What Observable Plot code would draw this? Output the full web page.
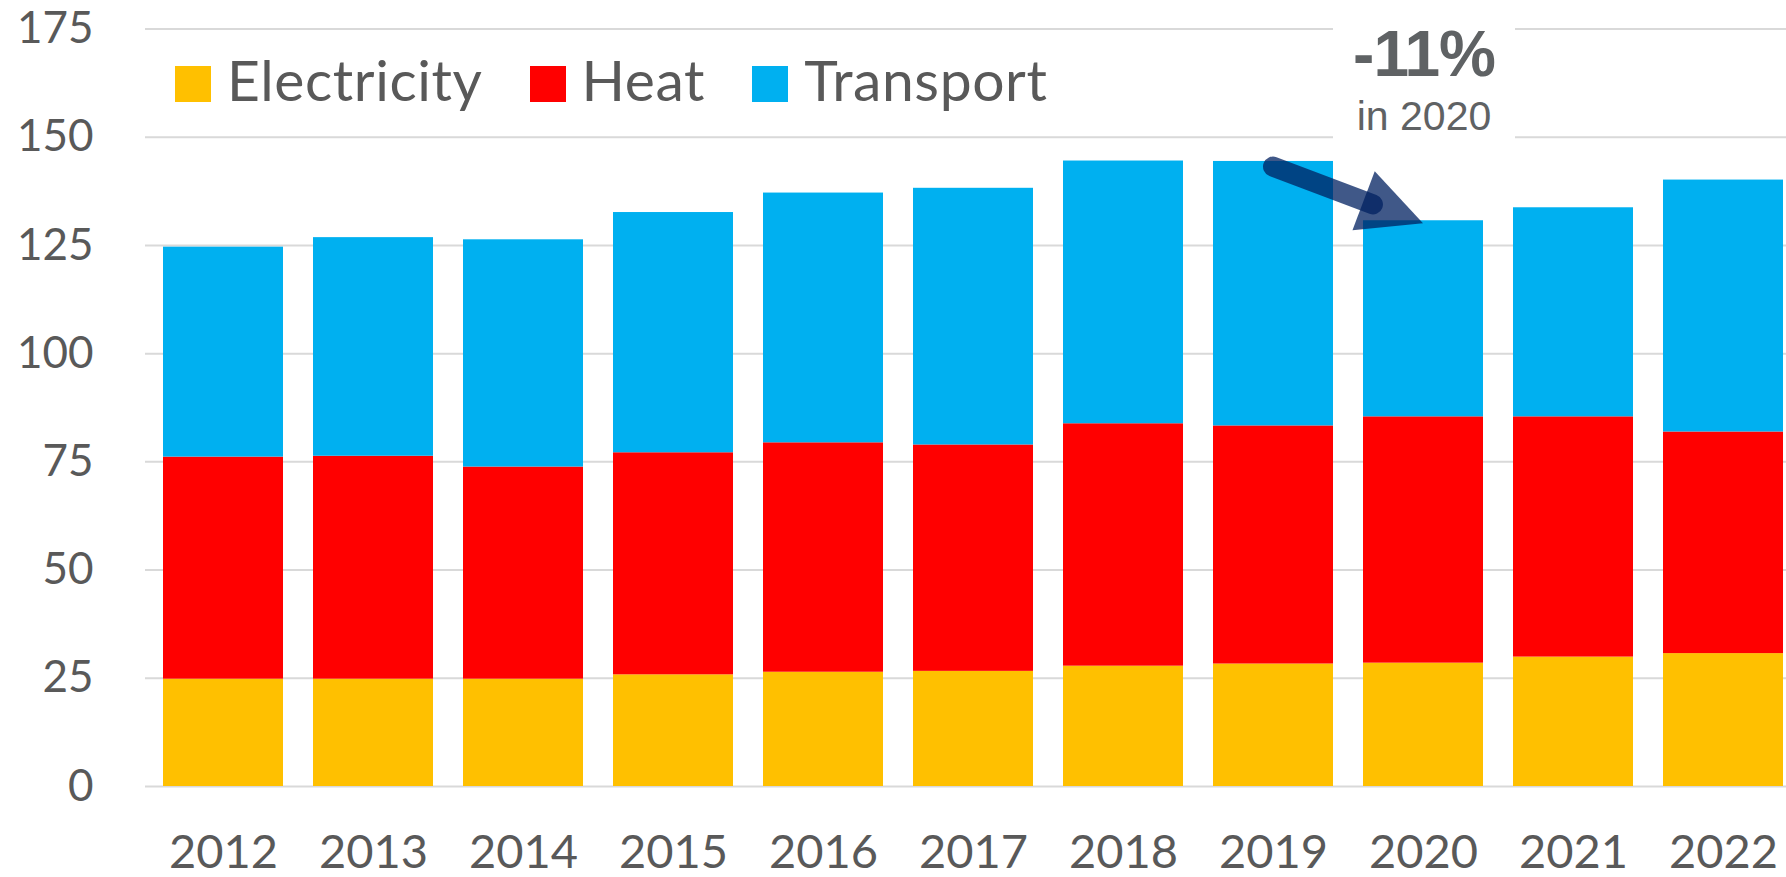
<!DOCTYPE html>
<html>
<head>
<meta charset="utf-8">
<script src="https://cdn.jsdelivr.net/npm/d3@7"></script>
<script src="https://cdn.jsdelivr.net/npm/@observablehq/plot@0.6"></script>
<style>
html, body { margin: 0; padding: 0; background: #fff; overflow: hidden; }
#wrap { position: relative; width: 1786px; height: 877px; }
#legend { position: absolute; left: 175px; top: 51px; display: flex; align-items: flex-start;
  font-family: Lato, sans-serif; font-size: 57px; line-height: 57px; letter-spacing: 0.6px; color: #595959; white-space: nowrap; }
#legend .item { display: flex; align-items: flex-start; margin-right: 47px; }
#legend .sw { width: 36px; height: 36px; margin-top: 15px; margin-right: 16px; }
#notebox { position: absolute; left: 1333px; top: 12px; width: 182px; height: 132px; background: #fff; }
.note { position: absolute; left: 1333px; width: 182px; text-align: center; color: #5f6264;
  font-family: "Liberation Sans", Arial, sans-serif; white-space: nowrap; }
#n1 { top: 22px; font-size: 64px; line-height: 64px; font-weight: bold; letter-spacing: -1px; }
#n2 { top: 96px; font-size: 41px; line-height: 41px; }
</style>
</head>
<body>
<div id="wrap">
  <div id="chart"></div>
  <div id="legend"></div>
  <div id="notebox"></div>
  <div class="note" id="n1">-11%</div>
  <div class="note" id="n2">in 2020</div>
</div>
<script>
// ---- data ----
const years = ["2012","2013","2014","2015","2016","2017","2018","2019","2020","2021","2022"];
const series = ["Electricity", "Heat", "Transport"];
const seriesColors = ["#FFC000", "#FF0000", "#00B0F0"];
const electricity = [24.8, 24.8, 24.8, 25.8, 26.4, 26.6, 27.8, 28.3, 28.5, 29.9, 30.7];
const heat        = [51.3, 51.5, 49.0, 51.3, 53.0, 52.3, 56.0, 55.0, 56.9, 55.5, 51.2];
const transport   = [48.5, 50.5, 52.5, 55.5, 57.7, 59.3, 60.7, 61.1, 45.3, 48.3, 58.2];
const yTicks = [0, 25, 50, 75, 100, 125, 150, 175];
const arrowFrom = {year: "2019", value: 143.1};
const arrowTo = {year: "2020", value: 130.0};

const valuesBySeries = [electricity, heat, transport];
const table = [];
series.forEach((s, i) => years.forEach((y, j) => table.push({year: y, series: s, value: valuesBySeries[i][j]})));

// legend
const legend = document.getElementById("legend");
series.forEach((s, i) => {
  const item = document.createElement("div");
  item.className = "item";
  const sw = document.createElement("div");
  sw.className = "sw";
  sw.style.background = seriesColors[i];
  const label = document.createElement("span");
  label.textContent = s;
  item.appendChild(sw);
  item.appendChild(label);
  legend.appendChild(item);
});

function arrowMark(index, scales) {
  const x = scales.x, y = scales.y;
  const off = x.bandwidth ? x.bandwidth() / 2 : 0;
  const x0 = x(arrowFrom.year) + off, y0 = y(arrowFrom.value);
  const x1 = x(arrowTo.year) + off, y1 = y(arrowTo.value);
  const dx = x1 - x0, dy = y1 - y0, len = Math.hypot(dx, dy);
  const ux = dx / len, uy = dy / len, nx = -uy, ny = ux;
  const shaftBack = 53.5, headLen = 63.5, headHalf = 31.5;
  const g = d3.create("svg:g");
  g.append("line")
    .attr("x1", x0).attr("y1", y0)
    .attr("x2", x1 - ux * shaftBack).attr("y2", y1 - uy * shaftBack)
    .attr("stroke", "#002060").attr("stroke-opacity", 0.75)
    .attr("stroke-width", 20).attr("stroke-linecap", "round");
  const bx = x1 - ux * headLen, by = y1 - uy * headLen;
  g.append("path")
    .attr("d", `M${x1},${y1}L${bx + nx * headHalf},${by + ny * headHalf}L${bx - nx * headHalf},${by - ny * headHalf}Z`)
    .attr("fill", "#002060").attr("fill-opacity", 0.75);
  return g.node();
}

const chart = Plot.plot({
  width: 1786,
  height: 877,
  marginLeft: 145,
  marginRight: 0,
  marginTop: 28.5,
  marginBottom: 91,
  style: {fontFamily: "Lato, sans-serif", color: "#595959", background: "#fff"},
  x: {type: "band", domain: years, range: [145, 1801.6], paddingInner: 0.2, paddingOuter: 0.1},
  y: {domain: [0, 175]},
  color: {domain: series, range: seriesColors},
  marks: [
    Plot.ruleY(yTicks, {stroke: "#D9D9D9", strokeWidth: 2}),
    Plot.barY(table, {x: "year", y: "value", fill: "series"}),
    Plot.axisY(yTicks, {tickSize: 0, tickPadding: 52, fontSize: 44, label: null}),
    Plot.axisX({tickSize: 0, tickPadding: 48, fontSize: 47, label: null}),
    arrowMark
  ]
});
document.getElementById("chart").appendChild(chart);
</script>
</body>
</html>
